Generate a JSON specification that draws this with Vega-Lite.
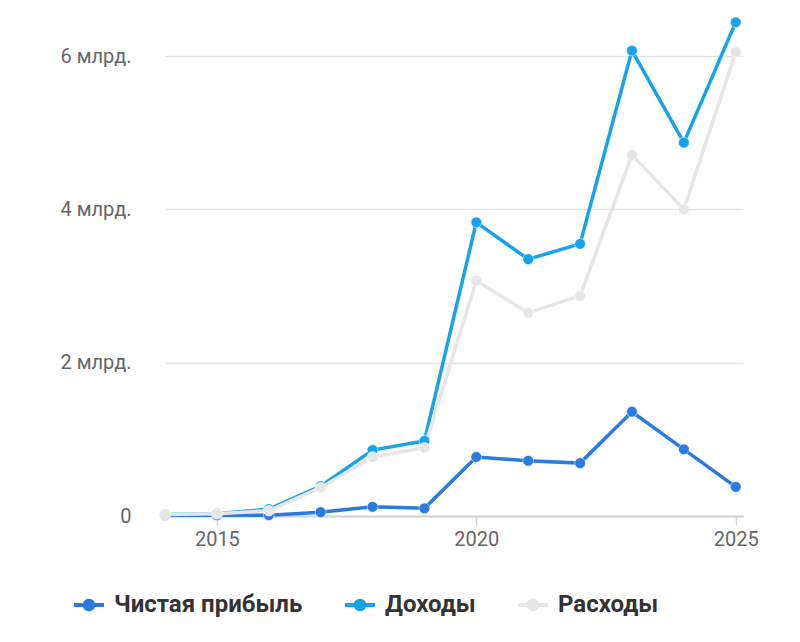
{
  "$schema": "https://vega.github.io/schema/vega-lite/v6.json",
  "width": 578,
  "height": 506,
  "autosize": "none",
  "padding": {"left": 165, "top": 10, "right": 57, "bottom": 126},
  "background": "white",
  "config": {
    "view": {"stroke": null},
    "font": "Roboto"
  },
  "data": {
    "values": [
      {"year": 2014, "series": "Чистая прибыль", "value": 0.01},
      {"year": 2015, "series": "Чистая прибыль", "value": 0.01},
      {"year": 2016, "series": "Чистая прибыль", "value": 0.01},
      {"year": 2017, "series": "Чистая прибыль", "value": 0.05},
      {"year": 2018, "series": "Чистая прибыль", "value": 0.12},
      {"year": 2019, "series": "Чистая прибыль", "value": 0.10},
      {"year": 2020, "series": "Чистая прибыль", "value": 0.77},
      {"year": 2021, "series": "Чистая прибыль", "value": 0.72},
      {"year": 2022, "series": "Чистая прибыль", "value": 0.69},
      {"year": 2023, "series": "Чистая прибыль", "value": 1.36},
      {"year": 2024, "series": "Чистая прибыль", "value": 0.87},
      {"year": 2025, "series": "Чистая прибыль", "value": 0.38},
      {"year": 2014, "series": "Доходы", "value": 0.02},
      {"year": 2015, "series": "Доходы", "value": 0.03},
      {"year": 2016, "series": "Доходы", "value": 0.09},
      {"year": 2017, "series": "Доходы", "value": 0.39},
      {"year": 2018, "series": "Доходы", "value": 0.86},
      {"year": 2019, "series": "Доходы", "value": 0.98},
      {"year": 2020, "series": "Доходы", "value": 3.83},
      {"year": 2021, "series": "Доходы", "value": 3.35},
      {"year": 2022, "series": "Доходы", "value": 3.55},
      {"year": 2023, "series": "Доходы", "value": 6.07},
      {"year": 2024, "series": "Доходы", "value": 4.87},
      {"year": 2025, "series": "Доходы", "value": 6.44},
      {"year": 2014, "series": "Расходы", "value": 0.02},
      {"year": 2015, "series": "Расходы", "value": 0.03},
      {"year": 2016, "series": "Расходы", "value": 0.07},
      {"year": 2017, "series": "Расходы", "value": 0.37},
      {"year": 2018, "series": "Расходы", "value": 0.77},
      {"year": 2019, "series": "Расходы", "value": 0.89},
      {"year": 2020, "series": "Расходы", "value": 3.07},
      {"year": 2021, "series": "Расходы", "value": 2.65},
      {"year": 2022, "series": "Расходы", "value": 2.87},
      {"year": 2023, "series": "Расходы", "value": 4.71},
      {"year": 2024, "series": "Расходы", "value": 4.0},
      {"year": 2025, "series": "Расходы", "value": 6.05}
    ]
  },
  "encoding": {
    "x": {
      "field": "year",
      "type": "quantitative",
      "scale": {"domain": [2014, 2025.14], "nice": false, "zero": false},
      "axis": {
        "title": null,
        "values": [2015, 2020, 2025],
        "format": "d",
        "grid": false,
        "domainColor": "#cfd2d6",
        "domainWidth": 2,
        "tickColor": "#cfd2d6",
        "tickWidth": 1.5,
        "tickSize": 9,
        "labelFontSize": 20,
        "labelColor": "#666666",
        "labelPadding": 4
      }
    },
    "y": {
      "field": "value",
      "type": "quantitative",
      "scale": {"domain": [0, 6.6], "nice": false},
      "axis": {
        "title": null,
        "values": [0, 2, 4, 6],
        "labelExpr": "datum.value == 0 ? '0' : datum.value + ' млрд.'",
        "domain": false,
        "ticks": false,
        "gridColor": "#e3e4e6",
        "gridWidth": 1.5,
        "labelFontSize": 20,
        "labelColor": "#666666",
        "labelPadding": 34
      }
    },
    "color": {
      "field": "series",
      "type": "nominal",
      "sort": ["Чистая прибыль", "Доходы", "Расходы"],
      "scale": {
        "domain": ["Чистая прибыль", "Доходы", "Расходы"],
        "range": ["#2a7be0", "#17a3ea", "#e6e6e6"]
      },
      "legend": {
        "title": null,
        "orient": "none",
        "legendX": -91,
        "legendY": 580,
        "direction": "horizontal",
        "symbolType": "M-1,-0.14L1,-0.14L1,0.14L-1,0.14ZM0.42,0A0.42,0.42 0 1,1 -0.42,0A0.42,0.42 0 1,1 0.42,0Z",
        "symbolSize": 900,
        "symbolStrokeWidth": 0,
        "labelFontSize": 24,
        "labelFontWeight": "bold",
        "labelColor": "#333333",
        "labelOffset": 10,
        "labelLimit": 400,
        "columnPadding": 42,
        "encode": {
          "symbols": {
            "update": {
              "fill": {"scale": "color", "field": "value"},
              "opacity": {"value": 1}
            }
          }
        }
      }
    }
  },
  "layer": [
    {
      "mark": {"type": "line", "strokeWidth": 3.5}
    },
    {
      "mark": {"type": "circle", "size": 115, "opacity": 1, "stroke": "white", "strokeWidth": 0.5}
    }
  ]
}
